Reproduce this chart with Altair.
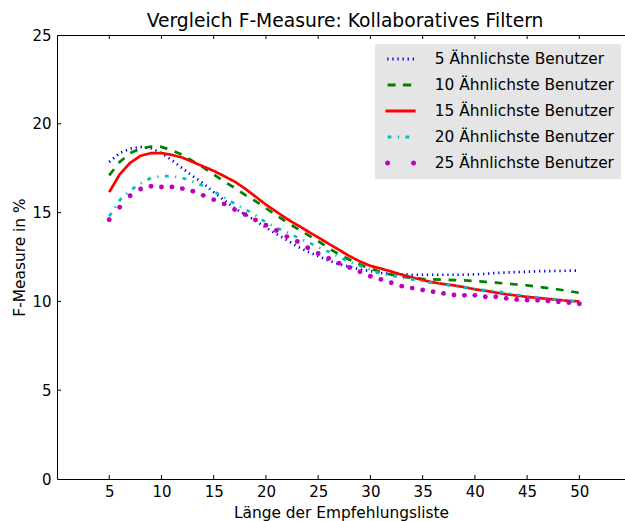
import altair as alt
import pandas as pd

# ---------------- data ----------------
X_VALUES = list(range(5, 51))

S5 = [17.85, 18.35, 18.6, 18.7, 18.62, 18.35, 17.95, 17.5, 17.05, 16.65,
      16.15, 15.7, 15.25, 14.9, 14.55, 14.15, 13.8, 13.45, 13.1, 12.8,
      12.55, 12.3, 12.1, 11.95, 11.8, 11.7, 11.6, 11.55, 11.52, 11.5,
      11.5, 11.5, 11.5, 11.5, 11.5, 11.52, 11.55, 11.6, 11.63, 11.65,
      11.67, 11.7, 11.7, 11.72, 11.73, 11.73]
S10 = [17.1, 17.85, 18.35, 18.6, 18.72, 18.7, 18.5, 18.25, 17.9, 17.55,
       17.15, 16.75, 16.4, 16.0, 15.65, 15.25, 14.85, 14.45, 14.1, 13.75,
       13.4, 13.0, 12.65, 12.35, 12.07, 11.85, 11.65, 11.5, 11.4, 11.32,
       11.27, 11.24, 11.22, 11.2, 11.18, 11.14, 11.1, 11.06, 11.0, 10.95,
       10.9, 10.83, 10.75, 10.67, 10.58, 10.48]
S15 = [16.15, 17.15, 17.8, 18.2, 18.35, 18.35, 18.25, 18.1, 17.85, 17.6,
       17.35, 17.05, 16.75, 16.35, 15.9, 15.45, 15.05, 14.65, 14.3, 13.95,
       13.6, 13.25, 12.9, 12.55, 12.25, 12.0, 11.85, 11.68, 11.5, 11.35,
       11.2, 11.07, 10.98, 10.9, 10.8, 10.68, 10.6, 10.5, 10.4, 10.33,
       10.25, 10.2, 10.14, 10.08, 10.03, 10.0]
S20 = [14.8, 15.7, 16.25, 16.65, 16.95, 17.05, 17.05, 16.95, 16.75, 16.5,
       16.2, 15.85, 15.5, 15.2, 14.85, 14.45, 14.15, 13.9, 13.6, 13.35,
       13.05, 12.8, 12.5, 12.22, 12.0, 11.78, 11.57, 11.45, 11.33, 11.24,
       11.13, 11.03, 10.95, 10.88, 10.78, 10.7, 10.63, 10.57, 10.48, 10.38,
       10.3, 10.22, 10.16, 10.1, 10.03, 9.98]
S25 = [14.6, 15.3, 15.95, 16.33, 16.48, 16.44, 16.44, 16.35, 16.2, 15.97,
       15.73, 15.49, 15.17, 14.89, 14.59, 14.29, 13.99, 13.65, 13.37, 13.02,
       12.7, 12.42, 12.15, 11.91, 11.67, 11.42, 11.24, 11.05, 10.86, 10.75,
       10.64, 10.54, 10.45, 10.36, 10.34, 10.34, 10.26, 10.26, 10.17, 10.11,
       10.07, 10.06, 10.02, 9.98, 9.93, 9.87]

SERIES_NAMES = ["5 Ähnlichste Benutzer", "10 Ähnlichste Benutzer",
                "15 Ähnlichste Benutzer", "20 Ähnlichste Benutzer",
                "25 Ähnlichste Benutzer"]
COLORS = ["#0000ff", "#008000", "#ff0000", "#00bfbf", "#bf00bf"]
DASHES = [[1.3, 3.8], [7.7, 7.7], [1, 0], [3.85, 6.4, 1.28, 6.4]]

X_TICKS = [5, 10, 15, 20, 25, 30, 35, 40, 45, 50]
Y_TICKS = [0, 5, 10, 15, 20, 25]

X_MAX = 54.37
Y_MAX = 25

TITLE = "Vergleich F-Measure: Kollaboratives Filtern"
X_TITLE = "Länge der Empfehlungsliste"
Y_TITLE = "F-Measure in %"

FONT = "DejaVu Sans"

# ---------------- legend symbols (unit = 5 px) ----------------
def rect(x0, x1, h=0.3):
    return f"M{x0},{-h}H{x1}V{h}H{x0}Z"

def circ(cx, r=0.5):
    return f"M{cx - r},0a{r},{r} 0 1,0 {2 * r},0a{r},{r} 0 1,0 {-2 * r},0Z"

SYM_DOT = " ".join(rect(c - 0.13, c + 0.13) for c in [-2.55, -1.53, -0.51, 0.51, 1.53, 2.55])
SYM_DASH = rect(-2.6, -1.0) + " " + rect(0.46, 2.12)
SYM_SOLID = rect(-3.0, 3.0)
SYM_DASHDOT = rect(-2.6, -1.84) + " " + rect(-0.56, -0.3) + " " + rect(0.98, 1.74)
SYM_MARK = circ(-2.6) + " " + circ(2.6)
SYMBOLS = [SYM_DOT, SYM_DASH, SYM_SOLID, SYM_DASHDOT, SYM_MARK]

# ---------------- tables ----------------
rows = []
for name, vals in zip(SERIES_NAMES, [S5, S10, S15, S20, S25]):
    for x, y in zip(X_VALUES, vals):
        rows.append({"series": name, "x": x, "y": y})
df = pd.DataFrame(rows)
line_df = df[df["series"] != SERIES_NAMES[4]]
dot_df = df[df["series"] == SERIES_NAMES[4]]
xt_df = pd.DataFrame({"t": X_TICKS})
yt_df = pd.DataFrame({"t": Y_TICKS[1:-1]})
leg_df = pd.DataFrame({"series": SERIES_NAMES})

W, H = 568, 444
TICK_PX = 4
TICK_DY = TICK_PX * Y_MAX / H      # tick length expressed in y units
TICK_DX = TICK_PX * X_MAX / W      # tick length expressed in x units

xscale = alt.Scale(domain=[0, X_MAX], nice=False, zero=False)
yscale = alt.Scale(domain=[0, Y_MAX], nice=False, zero=False)
color_scale = alt.Scale(domain=SERIES_NAMES, range=COLORS)
dash_scale = alt.Scale(domain=SERIES_NAMES[:4], range=DASHES)
shape_scale = alt.Scale(domain=SERIES_NAMES, range=SYMBOLS)

lines = alt.Chart(line_df).mark_line(strokeWidth=2.7).encode(
    x=alt.X("x:Q", scale=xscale,
            axis=alt.Axis(orient="bottom", values=X_TICKS, title=X_TITLE,
                          labelPadding=5, titlePadding=6, labelFlush=False)),
    y=alt.Y("y:Q", scale=yscale,
            axis=alt.Axis(orient="left", values=Y_TICKS, title=Y_TITLE,
                          labelPadding=6, titlePadding=4, labelFlush=False)),
    color=alt.Color("series:N", scale=color_scale, legend=None),
    strokeDash=alt.StrokeDash("series:N", scale=dash_scale, legend=None),
    order=alt.Order("x:Q"),
)

dots = alt.Chart(dot_df).mark_circle(size=24, opacity=1).encode(
    x=alt.X("x:Q", scale=xscale, axis=None),
    y=alt.Y("y:Q", scale=yscale, axis=None),
    color=alt.Color("series:N", scale=color_scale, legend=None),
)

# inward pointing ticks (matplotlib classic style)
bottom_ticks = alt.Chart(xt_df).mark_rule(color="black", strokeWidth=1).encode(
    x=alt.X("t:Q", scale=xscale, axis=None),
    y=alt.YDatum(0, scale=yscale, axis=None),
    y2=alt.Y2Datum(TICK_DY),
)
top_ticks = alt.Chart(xt_df).mark_rule(color="black", strokeWidth=1).encode(
    x=alt.X("t:Q", scale=xscale,
            axis=alt.Axis(orient="top", labels=False, ticks=False, domain=True,
                          title=None, grid=False)),
    y=alt.YDatum(Y_MAX, scale=yscale, axis=None),
    y2=alt.Y2Datum(Y_MAX - TICK_DY),
)
left_ticks = alt.Chart(yt_df).mark_rule(color="black", strokeWidth=1).encode(
    y=alt.Y("t:Q", scale=yscale, axis=None),
    x=alt.XDatum(0, scale=xscale, axis=None),
    x2=alt.X2Datum(TICK_DX),
)

legend = alt.Legend(
    title=None, orient="none", legendX=318, legendY=9.3,
    fillColor="#e5e5e5", padding=7, symbolSize=100, symbolStrokeWidth=0,
    symbolOffset=10.9, labelOffset=26.5, labelFontSize=15.4, labelFont=FONT,
    labelColor="black", labelLimit=400, rowPadding=9, symbolOpacity=1,
)
carrier = alt.Chart(leg_df).transform_filter("false").mark_point(
    filled=True, size=100, opacity=1, strokeWidth=0
).encode(
    color=alt.Color("series:N", scale=color_scale, legend=legend),
    shape=alt.Shape("series:N", scale=shape_scale, legend=legend),
)

chart = alt.layer(
    lines, dots, bottom_ticks, top_ticks, left_ticks, carrier
).resolve_axis(
    x="independent", y="independent"
).resolve_legend(
    color="independent", shape="independent"
).properties(
    width=W, height=H,
    title=alt.TitleParams(TITLE, fontSize=18.7, font=FONT, fontWeight="normal",
                          color="black", anchor="middle", offset=4, dx=4,
                          dy=6.5, frame="group"),
    padding={"left": 57, "top": 35, "right": 0, "bottom": 42},
    autosize=alt.AutoSizeParams(type="none"),
    background="white",
).configure_view(stroke=None).configure_axis(
    labelFont=FONT, labelFontSize=15, labelColor="black",
    titleFont=FONT, titleFontSize=15.4, titleFontWeight="normal", titleColor="black",
    domainColor="black", domainWidth=1, ticks=False, tickSize=0, grid=False,
)

chart.save("out.html", embed_options={"renderer": "svg", "actions": False})
